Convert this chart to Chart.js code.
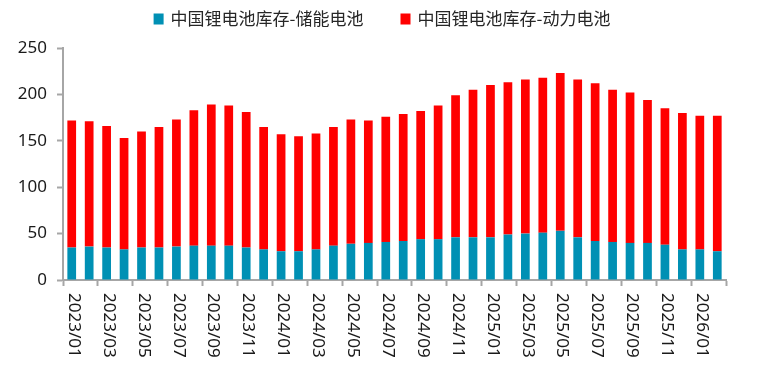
<!DOCTYPE html>
<html>
<head>
<meta charset="utf-8">
<script src="https://cdn.jsdelivr.net/npm/chart.js@4/dist/chart.umd.min.js"></script>
<style>
    html, body { margin: 0; padding: 0; background: #fff; }
    #wrap { width: 780px; height: 377px; }
</style>
</head>
<body>
<div id="wrap"><canvas id="stockChart"></canvas></div>
<script>
const months = [
    '2023/01', '2023/02', '2023/03', '2023/04', '2023/05', '2023/06', '2023/07', '2023/08', '2023/09', '2023/10', '2023/11', '2023/12',
    '2024/01', '2024/02', '2024/03', '2024/04', '2024/05', '2024/06', '2024/07', '2024/08', '2024/09', '2024/10', '2024/11', '2024/12',
    '2025/01', '2025/02', '2025/03', '2025/04', '2025/05', '2025/06', '2025/07', '2025/08', '2025/09', '2025/10', '2025/11', '2025/12',
    '2026/01', '2026/02'
]

// 储能电池
const storageStock = [
    35, 36, 35, 33, 35, 35, 36, 37, 37, 37, 35, 33,
    31, 31, 33, 37, 39, 40, 41, 42, 44, 44, 46, 46,
    46, 49, 50, 51, 53, 46, 42, 41, 40, 40, 38, 33,
    33, 31
]

// 动力电池
const powerStock = [
    137, 135, 131, 120, 125, 130, 137, 146, 152, 151, 146, 132,
    126, 124, 125, 128, 134, 132, 135, 137, 138, 144, 153, 159,
    164, 164, 166, 167, 170, 170, 170, 164, 162, 154, 147, 147,
    144, 146
]

const yTicks = [0, 50, 100, 150, 200, 250]

const axisGray = '#A6A6A6'
const textColor = '#1a1a1a'

// x labels read top to bottom, every other month
const verticalLabels = {
    id: 'verticalLabels',
    afterDraw(chart) {
        const xs = chart.scales.x
        const ctx = chart.ctx
        ctx.save()
        ctx.font = '17px "Noto Sans", sans-serif'
        ctx.fillStyle = textColor
        ctx.textAlign = 'left'
        ctx.textBaseline = 'middle'
        months.forEach((m, i) => {
            if (i % 2) return
            ctx.save()
            ctx.translate(xs.getPixelForValue(i) + 2, xs.top + 13)
            ctx.rotate(Math.PI / 2)
            ctx.fillText(m, 0, 0)
            ctx.restore()
        })
        ctx.restore()
    }
}

const topLegend = {
    id: 'topLegend',
    afterDraw(chart) {
        const ctx = chart.ctx
        ctx.save()
        ctx.font = '17px "Noto Sans CJK SC", sans-serif'
        ctx.textBaseline = 'middle'
        const items = chart.data.datasets.map(ds => ({
            text: ds.label,
            color: ds.backgroundColor,
            w: ctx.measureText(ds.label).width
        }))
        const box = 10, gap = 7, between = 37
        const total = items.reduce((s, it) => s + box + gap + it.w, 0) + between * (items.length - 1)
        let x = (chart.width - total) / 2 - 8
        const y = 19
        items.forEach(it => {
            ctx.fillStyle = it.color
            ctx.fillRect(x, y - 5.5, box, 11)
            x += box + gap
            ctx.fillStyle = '#262626'
            ctx.fillText(it.text, x, y)
            x += it.w + between
        })
        ctx.restore()
    }
}

const ctx = document.getElementById('stockChart').getContext('2d')

new Chart(ctx, {
    type: 'bar',
    data: {
        labels: months,
        datasets: [{
            label: '中国锂电池库存-储能电池',
            data: storageStock,
            backgroundColor: '#0090B4',
            barPercentage: 0.5,
            categoryPercentage: 1
        }, {
            label: '中国锂电池库存-动力电池',
            data: powerStock,
            backgroundColor: '#FF0000',
            barPercentage: 0.5,
            categoryPercentage: 1
        }]
    },
    options: {
        responsive: true,
        maintainAspectRatio: false,
        animation: false,
        layout: {
            padding: { top: 48, right: 54, left: 0, bottom: 0 }
        },
        scales: {
            x: {
                stacked: true,
                offset: true,
                grid: {
                    drawOnChartArea: false,
                    tickLength: 6,
                    tickWidth: 2,
                    offset: true,
                    tickColor: (c) => (c.index === undefined || c.index % 2 === 0) ? axisGray : 'rgba(0,0,0,0)'
                },
                border: { color: axisGray, width: 2 },
                ticks: { display: false },
                afterFit: (scale) => { scale.height = 97 }
            },
            y: {
                stacked: true,
                min: yTicks[0],
                max: yTicks[yTicks.length - 1],
                afterBuildTicks: (scale) => { scale.ticks = yTicks.map(v => ({ value: v })) },
                grid: {
                    drawOnChartArea: false,
                    tickLength: 6,
                    tickWidth: 2,
                    tickColor: axisGray
                },
                border: { color: axisGray, width: 2 },
                ticks: {
                    padding: 10,
                    color: textColor,
                    font: { family: '"Noto Sans", sans-serif', size: 17 }
                },
                afterFit: (scale) => { scale.width = 63 }
            }
        },
        plugins: {
            legend: { display: false },
            tooltip: { enabled: false }
        }
    },
    plugins: [verticalLabels, topLegend]
})
</script>
</body>
</html>
